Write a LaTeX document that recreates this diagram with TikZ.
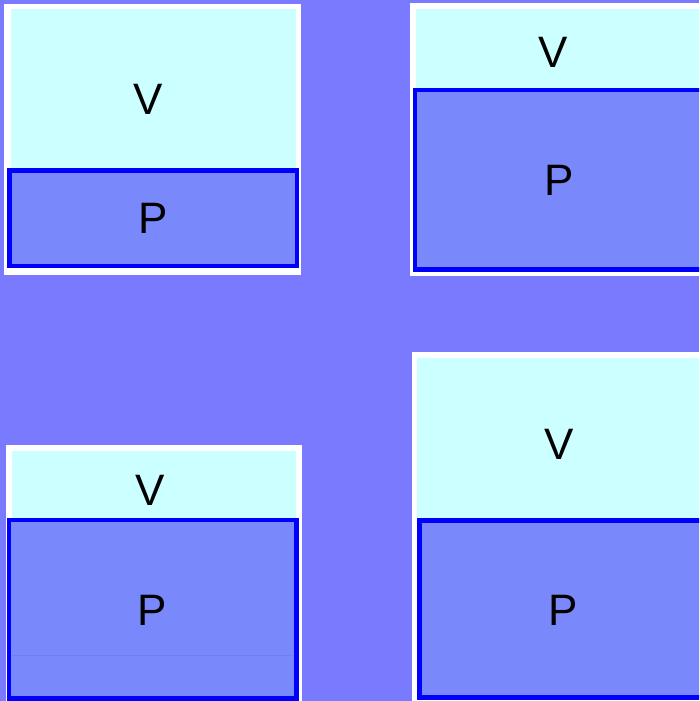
\documentclass[tikz,border=0pt]{standalone}
\usepackage{fontspec}
\setmainfont{Liberation Sans}
\usetikzlibrary{positioning}
\definecolor{bgblue}{RGB}{122,122,255}
\definecolor{vcyan}{RGB}{204,255,255}
\definecolor{pfill}{RGB}{121,137,252}
\definecolor{pborder}{RGB}{0,0,255}
\definecolor{pseam}{RGB}{113,127,247}
\tikzstyle{frame}=[rectangle, fill=white, inner sep=0pt, outer sep=0pt, anchor=north west]
\tikzstyle{vpart}=[rectangle, fill=vcyan, inner sep=0pt, outer sep=0pt, anchor=north west]
\tikzstyle{ppart}=[rectangle, draw=pborder, line width=4.5pt, fill=pfill,
                   inner sep=0pt, outer sep=0pt, anchor=north west]
\tikzstyle{tag}=[font=\fontsize{44}{50}\selectfont, inner sep=0pt]
\begin{document}
\begin{tikzpicture}[x=1pt, y=-1pt]
    \clip (0,0) rectangle (699,701);
    \fill [bgblue] (0,0) rectangle (699,701);
    % top left
    \node [frame, minimum width=297, minimum height=271] (frameA) at (4,4) {};
    \node [vpart, minimum width=285, minimum height=160] (volA) at (11,9) {};
    \node [ppart, minimum width=287.5, minimum height=95.5] (presA) at (9.25,170.25) {};
    \node [tag] (vA) at (148,99.5) {V};
    \node [tag] (pA) at (153,218.5) {P};
    % top right
    \node [frame, minimum width=300, minimum height=272.5] (frameB) at (410,3.5) {};
    \node [vpart, minimum width=300, minimum height=80] (volB) at (416,9) {};
    \node [ppart, minimum width=300, minimum height=179.5] (presB) at (415,90) {};
    \node [tag] (vB) at (553,52.5) {V};
    \node [tag] (pB) at (559,180.5) {P};
    % bottom left
    \node [frame, minimum width=296, minimum height=260] (frameC) at (6,445) {};
    \node [vpart, minimum width=284.3, minimum height=68] (volC) at (11.7,451) {};
    \node [ppart, minimum width=287.7, minimum height=178.7] (presC) at (9,520) {};
    \draw [pseam, line width=1pt] (12,655) -- (293,655);
    \node [tag] (vC) at (150,490.5) {V};
    \node [tag] (pC) at (152,610.5) {P};
    % bottom right
    \node [frame, minimum width=300, minimum height=360] (frameD) at (412,352) {};
    \node [vpart, minimum width=300, minimum height=161] (volD) at (417,358) {};
    \node [ppart, minimum width=300, minimum height=177] (presD) at (419.5,520.5) {};
    \node [tag] (vD) at (559,444.5) {V};
    \node [tag] (pD) at (563,610.5) {P};
\end{tikzpicture}
\end{document}
